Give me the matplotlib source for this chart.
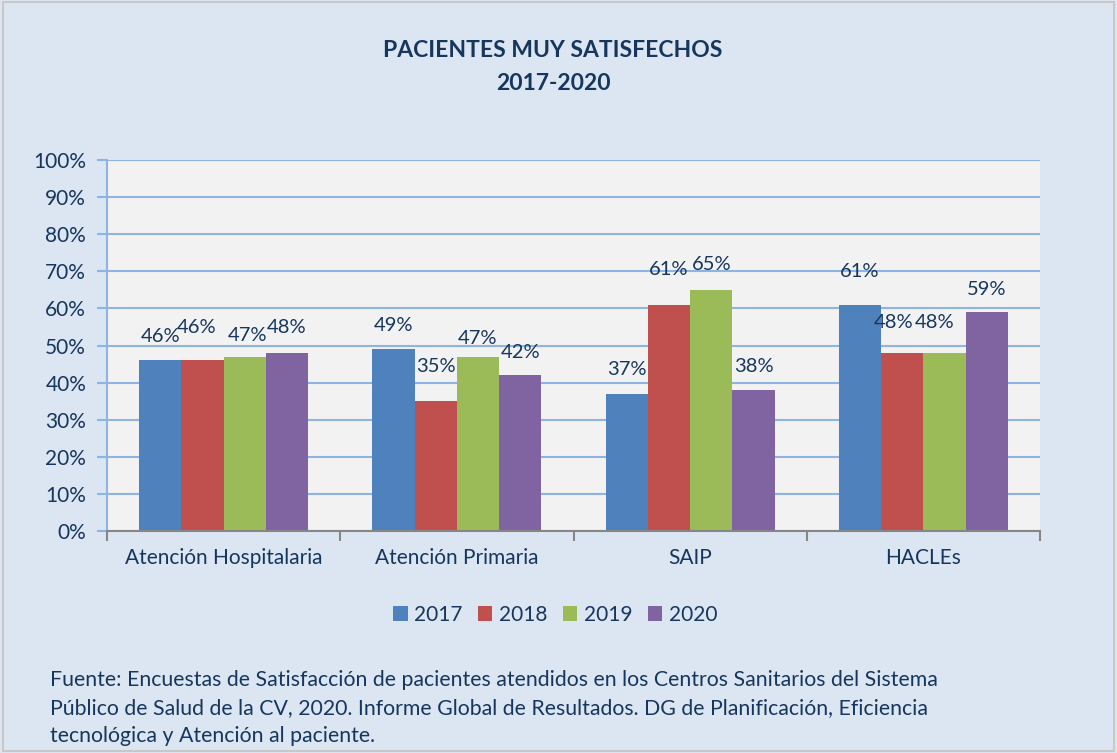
import matplotlib
matplotlib.use("Agg")
import matplotlib.pyplot as plt
from matplotlib.patches import Rectangle, Patch
import numpy as np

categories = ["Atención Hospitalaria", "Atención Primaria", "SAIP", "HACLEs"]
years = ["2017", "2018", "2019", "2020"]
v2017 = [46, 49, 37, 61]
v2018 = [46, 35, 61, 48]
v2019 = [47, 47, 65, 48]
v2020 = [48, 42, 38, 59]
yticks = [0, 10, 20, 30, 40, 50, 60, 70, 80, 90, 100]
title = "PACIENTES MUY SATISFECHOS\n2017-2020"
source = ("Fuente: Encuestas de Satisfacción de pacientes atendidos en los Centros Sanitarios del Sistema\n"
          "Público de Salud de la CV, 2020. Informe Global de Resultados. DG de Planificación, Eficiencia\n"
          "tecnológica y Atención al paciente.")

series = [v2017, v2018, v2019, v2020]
colors = ["#4F81BD", "#C0504D", "#9BBB59", "#8064A2"]
# label placement tweaks (pixels) mimicking Excel's staggering
lab_dy = [[24, 24, 24, 33], [33, 35, 35, 30], [21, 18, 25, 30], [25, 23, 24, 23]]
lab_dx = [[0, 0, 0, 0], [-6, 0, 0, -9], [3, 0, 0, -10], [0, 0, 0, 0]]

navy = "#17365D"
plt.rcParams['font.family'] = ['Lato', 'DejaVu Sans']

W, H = 1117, 753
fig = plt.figure(figsize=(W / 100, H / 100), dpi=100)
fig.patch.set_facecolor("#DCE6F2")
fig.add_artist(Rectangle((0.003, 0.003), 0.994, 0.994, transform=fig.transFigure,
                         fill=False, edgecolor="#C8C8C8", linewidth=1.5))

ax = fig.add_axes([107 / W, 1 - 531 / H, (1040 - 107) / W, (531 - 160) / H])
ax.set_facecolor("#F2F2F2")

x = np.arange(len(categories))
bw = 0.181
for i, (vals, c) in enumerate(zip(series, colors)):
    pos = x + (i - 1.5) * bw
    ax.bar(pos, vals, width=bw, color=c, zorder=3, label=years[i])
    for j, v in enumerate(vals):
        ax.annotate(f"{v}%", (pos[j], v), xytext=(lab_dx[i][j], lab_dy[i][j]),
                    textcoords="offset pixels", ha="center", va="center",
                    fontsize=14.5, color=navy, zorder=4)

ax.set_xlim(-0.5, 3.5)
ax.set_ylim(0, 100)
ax.set_yticks(yticks)
ax.set_yticklabels([f"{t}%" for t in yticks], fontsize=15, color=navy)
ax.yaxis.grid(True, color="#8EB4E3", linewidth=1.5, zorder=0)
ax.tick_params(axis="y", length=7, color="#8EB4E3", width=1.5, pad=8)

ax.set_xticks(x)
ax.set_xticklabels(categories, fontsize=15, color=navy)
ax.set_xticks(np.arange(-0.5, 4.0, 1.0), minor=True)
ax.tick_params(axis="x", which="major", length=0, pad=12)
ax.tick_params(axis="x", which="minor", length=7, color="#868686", width=1.5)

for s in ["top", "right"]:
    ax.spines[s].set_visible(False)
ax.spines["left"].set_color("#8EB4E3")
ax.spines["left"].set_linewidth(1.5)
ax.spines["bottom"].set_color("#868686")
ax.spines["bottom"].set_linewidth(1.5)
ax.spines["bottom"].set_zorder(5)

fig.text(553 / W, 1 - 67 / H, title, ha="center", va="center", fontsize=16.5,
         fontweight="bold", color=navy, linespacing=1.75)

handles = [Patch(facecolor=c, edgecolor="none") for c in colors]
fig.legend(handles, years, loc="center", bbox_to_anchor=(555 / W, 1 - 615 / H),
           ncol=4, frameon=False, fontsize=15, labelcolor=navy,
           handlelength=0.7, handleheight=0.7, handletextpad=0.3, columnspacing=0.75)

fig.text(50 / W, 1 - 708 / H, source, ha="left", va="center", fontsize=15.3,
         color=navy, linespacing=1.5)

fig.savefig("out.png", dpi=100, facecolor=fig.get_facecolor())
